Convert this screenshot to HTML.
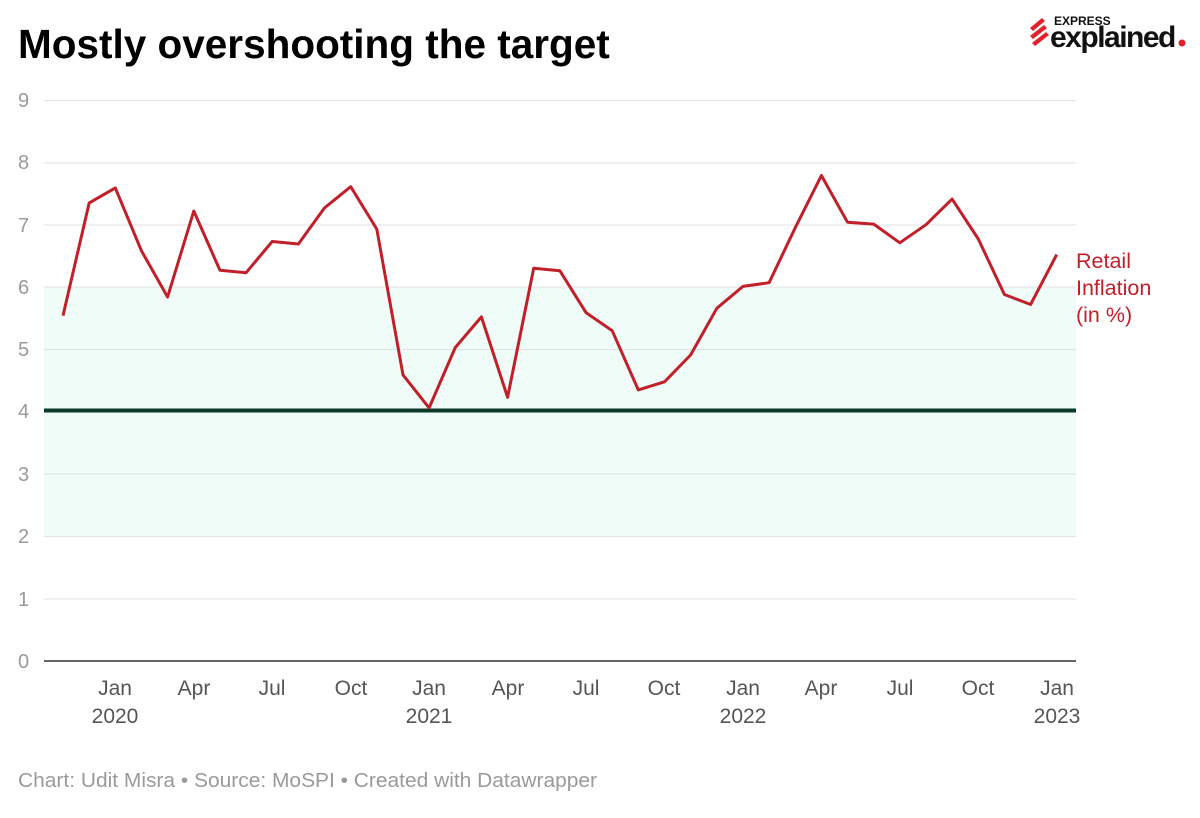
<!DOCTYPE html>
<html><head><meta charset="utf-8"><style>
body{margin:0;background:#fff;width:1200px;height:813px;overflow:hidden;font-family:"Liberation Sans",sans-serif}
</style></head><body>
<svg width="1200" height="813" xmlns="http://www.w3.org/2000/svg" font-family="Liberation Sans, sans-serif">
<text x="18" y="58" font-size="40.5" font-weight="bold" fill="#000">Mostly overshooting the target</text>
<g transform="translate(1030,12)">
<g fill="#e4202a"><path d="M0 16 l12 -10 l3 3 l-12 10z"/><path d="M0 24 l14 -11 l3 3 l-14 11z"/><path d="M2 31 l14 -11 l3 3 l-14 11z"/></g>
<text x="24" y="13" font-size="12" font-weight="bold" fill="#111">EXPRESS</text>
<text x="20" y="35" font-size="30" font-weight="bold" fill="#111" letter-spacing="-1.5">explained</text>
<circle cx="152" cy="31" r="3.5" fill="#e4202a"/>
</g>
<rect x="44" y="287" width="1032" height="250" fill="#effcf7"/>
<g stroke="#e2e2e2" stroke-width="1">
<line x1="44" x2="1076" y1="100.5" y2="100.5"/><line x1="44" x2="1076" y1="163" y2="163"/>
<line x1="44" x2="1076" y1="225" y2="225"/><line x1="44" x2="1076" y1="287" y2="287"/>
<line x1="44" x2="1076" y1="349.5" y2="349.5"/><line x1="44" x2="1076" y1="474" y2="474"/>
<line x1="44" x2="1076" y1="536.5" y2="536.5"/><line x1="44" x2="1076" y1="599" y2="599"/>
</g>
<line x1="44" x2="1076" y1="661" y2="661" stroke="#333" stroke-width="1.5"/>
<line x1="44" x2="1076" y1="410.5" y2="410.5" stroke="#0b3a2a" stroke-width="4"/>
<g font-size="20" fill="#9a9a9a">
<text x="18" y="107">9</text><text x="18" y="169">8</text><text x="18" y="232">7</text><text x="18" y="294">6</text><text x="18" y="356">5</text><text x="18" y="418">4</text><text x="18" y="481">3</text><text x="18" y="543">2</text><text x="18" y="606">1</text><text x="18" y="668">0</text>
</g>
<g font-size="21" fill="#555" text-anchor="middle">
<text x="115" y="695">Jan</text><text x="115" y="723">2020</text>
<text x="194" y="695">Apr</text><text x="272" y="695">Jul</text><text x="351" y="695">Oct</text>
<text x="429" y="695">Jan</text><text x="429" y="723">2021</text>
<text x="508" y="695">Apr</text><text x="586" y="695">Jul</text><text x="664" y="695">Oct</text>
<text x="743" y="695">Jan</text><text x="743" y="723">2022</text>
<text x="821" y="695">Apr</text><text x="900" y="695">Jul</text><text x="978" y="695">Oct</text>
<text x="1057" y="695">Jan</text><text x="1057" y="723">2023</text>
</g>
<polyline fill="none" stroke="#c0202a" stroke-width="3" stroke-linejoin="round" points="63,315.7 89.2,202.9 115.3,187.9 141.5,250.9 167.6,297 193.8,211 219.9,270.2 246.1,272.7 272.2,241.5 298.4,244 324.5,207.9 350.7,186.7 376.8,229.1 403,374.9 429.1,407.9 455.3,347.5 481.4,316.9 507.6,397.3 533.7,268.3 559.9,270.8 586,312.6 612.2,330.7 638.3,389.9 664.5,381.8 690.6,355 716.9,308.2 743,286.4 769.1,282.7 795.2,227.8 821.4,175.5 847.5,222.2 873.7,224.1 899.8,242.8 926,224.7 952.1,199.1 978.3,239 1004.4,294.5 1030.6,304.5 1056.7,254.6"/>
<g font-size="21.5" fill="#c0202a">
<text x="1076" y="268">Retail</text><text x="1076" y="295">Inflation</text><text x="1076" y="322">(in %)</text>
</g>
<text x="18" y="787" font-size="20" fill="#9a9a9a" textLength="579" lengthAdjust="spacingAndGlyphs">Chart: Udit Misra • Source: MoSPI • Created with Datawrapper</text>
</svg>
</body></html>
